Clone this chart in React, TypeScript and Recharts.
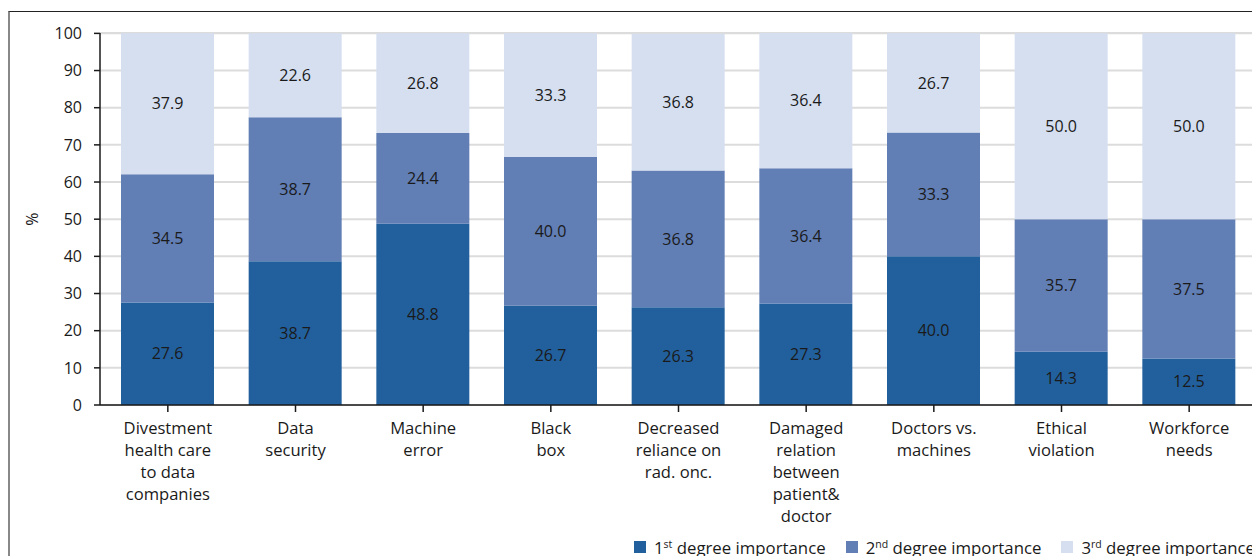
import { type FC } from "react";
import {
  Bar,
  BarChart,
  CartesianGrid,
  LabelList,
  Legend,
  XAxis,
  YAxis,
} from "recharts";

const categories = [
  "Divestment health care to data companies",
  "Data security",
  "Machine error",
  "Black box",
  "Decreased reliance on rad. onc.",
  "Damaged relation between patient& doctor",
  "Doctors vs. machines",
  "Ethical violation",
  "Workforce needs",
];

// tick labels, broken the way the original wraps them
const categoryLines = [
  ["Divestment", "health care", "to data", "companies"],
  ["Data", "security"],
  ["Machine", "error"],
  ["Black", "box"],
  ["Decreased", "reliance on", "rad. onc."],
  ["Damaged", "relation", "between", "patient&", "doctor"],
  ["Doctors vs.", "machines"],
  ["Ethical", "violation"],
  ["Workforce", "needs"],
];

const firstDegree = [27.6, 38.7, 48.8, 26.7, 26.3, 27.3, 40.0, 14.3, 12.5];
const secondDegree = [34.5, 38.7, 24.4, 40.0, 36.8, 36.4, 33.3, 35.7, 37.5];
const thirdDegree = [37.9, 22.6, 26.8, 33.3, 36.8, 36.4, 26.7, 50.0, 50.0];

const yTicks = [0, 10, 20, 30, 40, 50, 60, 70, 80, 90, 100];

const FONT = "'Open Sans', sans-serif";
const TEXT = "#1a1a1a";
const DARK = "#22609d";
const MID = "#617eb5";
const LIGHT = "#d5dff0";

const data = categories.map((name, i) => ({
  name,
  first: firstDegree[i],
  second: secondDegree[i],
  third: thirdDegree[i],
}));

const CategoryTick = (props: any) => {
  const { x, y, payload } = props;
  const lines = categoryLines[payload.index] || [payload.value];
  return (
    <g transform={`translate(${x},${y})`}>
      <text textAnchor="middle" fontSize={16.6} fontFamily={FONT} fill={TEXT}>
        {lines.map((line, i) => (
          <tspan key={i} x={0} y={20 + i * 22}>
            {line}
          </tspan>
        ))}
      </text>
    </g>
  );
};

const renderPercentLabel = (props: any) => {
  const vb = props.viewBox || { x: 0, y: 0, height: 0 };
  const cx = vb.x + 22;
  const cy = vb.y + vb.height / 2;
  return (
    <text
      x={cx}
      y={cy}
      textAnchor="middle"
      dominantBaseline="central"
      transform={`rotate(-90, ${cx}, ${cy})`}
      fontSize={16}
      fontFamily={FONT}
      fill={TEXT}
    >
      %
    </text>
  );
};

const legendItems = [
  { color: DARK, num: "1", sup: "st" },
  { color: MID, num: "2", sup: "nd" },
  { color: LIGHT, num: "3", sup: "rd" },
];

const LegendContent: FC = () => (
  <div
    style={{
      display: "flex",
      justifyContent: "flex-end",
      alignItems: "center",
      height: 20,
      paddingRight: 5,
      fontFamily: FONT,
      fontSize: 16.8,
      color: TEXT,
      gap: 20,
    }}
  >
    {legendItems.map((item) => (
      <div key={item.num} style={{ display: "flex", alignItems: "center" }}>
        <span
          style={{
            width: 12,
            height: 12,
            background: item.color,
            marginRight: 8,
            display: "inline-block",
          }}
        />
        <span style={{ whiteSpace: "nowrap" }}>
          {item.num}
          <sup style={{ fontSize: 10.5, verticalAlign: "6px", lineHeight: 0 }}>
            {item.sup}
          </sup>{" "}
          degree importance
        </span>
      </div>
    ))}
  </div>
);

const labelFormat = (v: any) => Number(v).toFixed(1);

export default function App() {
  return (
    <div
      style={{
        marginTop: 3,
        width: 1250,
        height: 545,
        borderTop: "1px solid #222",
        borderLeft: "2px solid #888",
        overflow: "hidden",
      }}
    >
      <BarChart
        width={1250}
        height={545}
        data={data}
        margin={{ top: 21, right: 4, left: 0, bottom: 2 }}
        style={{ fontFamily: FONT }}
      >
        <CartesianGrid vertical={false} stroke="#dcdcdc" strokeWidth={2} />
        <XAxis
          dataKey="name"
          interval={0}
          height={130}
          padding={{ left: 4, right: 3 }}
          tickSize={7}
          tick={<CategoryTick />}
          axisLine={{ stroke: TEXT, strokeWidth: 1.5 }}
          tickLine={{ stroke: TEXT, strokeWidth: 1.5 }}
        />
        <YAxis
          domain={[0, 100]}
          ticks={yTicks}
          interval={0}
          width={90}
          tickSize={6}
          tickMargin={12}
          axisLine={{ stroke: TEXT, strokeWidth: 1.5 }}
          tickLine={{ stroke: TEXT, strokeWidth: 1.5 }}
          tick={{ fill: TEXT, fontSize: 16, fontFamily: FONT }}
          label={{ value: "%", content: renderPercentLabel }}
        />
        <Legend
          content={<LegendContent />}
          wrapperStyle={{ left: 0, top: 525, width: 1250 }}
        />
        <Bar dataKey="first" stackId="a" fill={DARK} barSize={93} isAnimationActive={false}>
          <LabelList dataKey="first" position="center" formatter={labelFormat} fill={TEXT} fontSize={16} fontFamily={FONT} />
        </Bar>
        <Bar dataKey="second" stackId="a" fill={MID} barSize={93} isAnimationActive={false}>
          <LabelList dataKey="second" position="center" formatter={labelFormat} fill={TEXT} fontSize={16} fontFamily={FONT} />
        </Bar>
        <Bar dataKey="third" stackId="a" fill={LIGHT} barSize={93} isAnimationActive={false}>
          <LabelList dataKey="third" position="center" formatter={labelFormat} fill={TEXT} fontSize={16} fontFamily={FONT} />
        </Bar>
      </BarChart>
    </div>
  );
}
